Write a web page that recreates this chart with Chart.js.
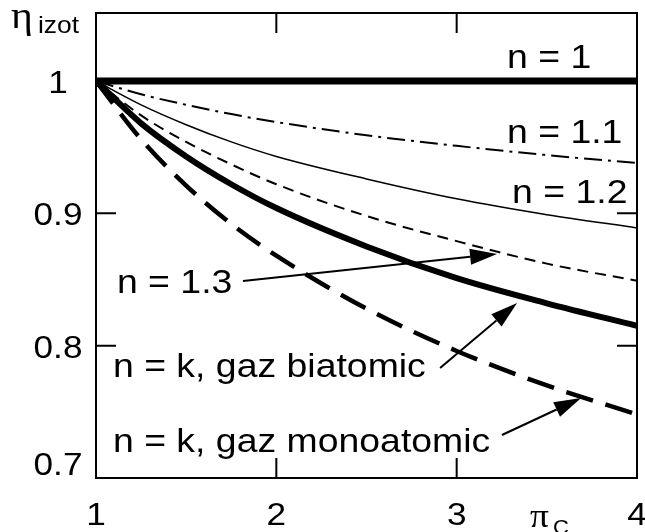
<!DOCTYPE html>
<html>
<head>
<meta charset="utf-8">
<script src="https://cdn.jsdelivr.net/npm/chart.js@4"></script>
<style>
  html, body { margin: 0; padding: 0; background: #fff; }
  canvas { display: block; }
</style>
</head>
<body>
<canvas id="chart" width="645" height="532"></canvas>
<script>
/* global Chart */
// pressure ratio and isothermal efficiency for each polytropic exponent
const piC = [1, 1.25, 1.5, 1.75, 2, 2.5, 3, 3.5, 4];
const etaN1 = [1, 1, 1, 1, 1, 1, 1, 1, 1];
const etaN11 = [1, 0.990, 0.982, 0.975, 0.969, 0.959, 0.951, 0.944, 0.938];
const etaN12 = [1, 0.982, 0.967, 0.954, 0.943, 0.926, 0.911, 0.899, 0.889];
const etaN13 = [1, 0.974, 0.954, 0.937, 0.922, 0.898, 0.879, 0.862, 0.849];
const etaBiatomic = [1, 0.968, 0.943, 0.922, 0.904, 0.875, 0.851, 0.832, 0.815];
const etaMonoatomic = [1, 0.956, 0.921, 0.892, 0.868, 0.828, 0.796, 0.770, 0.748];

const xTicks = [1, 2, 3, 4];
const yTicks = [0.7, 0.8, 0.9, 1];
const yTickLabels = ['0.7', '0.8', '0.9', '1'];

const FONT = '"Liberation Sans", Arial, sans-serif';
const SERIF = '"Liberation Serif", "DejaVu Serif", serif';
const STRETCH = 1.1; // lettering is a little wide

const toPoints = (ys) => ys.map((y, i) => ({ x: piC[i], y }));

const series = [
  { data: etaN1, width: 7, dash: [] },
  { data: etaN11, width: 2, dash: [18, 6, 3, 6] },
  { data: etaN12, width: 1.5, dash: [] },
  { data: etaN13, width: 2, dash: [11, 7] },
  { data: etaBiatomic, width: 6, dash: [] },
  { data: etaMonoatomic, width: 4.5, dash: [28, 13] },
];

// labels: text, left x, baseline y (data units)
const labels = [
  { text: 'n = 1', x: 3.279, y: 1.0098 },
  { text: 'n = 1.1', x: 3.279, y: 0.9531 },
  { text: 'n = 1.2', x: 3.307, y: 0.9078 },
  { text: 'n = 1.3', x: 1.116, y: 0.8398 },
  { text: 'n = k, gaz biatomic', x: 1.094, y: 0.7763 },
  { text: 'n = k, gaz monoatomic', x: 1.094, y: 0.7196 },
];

// arrows: tail -> tip (data units)
const arrows = [
  { from: [1.815, 0.8489], to: [3.224, 0.8693] },
  { from: [2.908, 0.7831], to: [3.335, 0.8322] },
  { from: [3.251, 0.7325], to: [3.690, 0.7604] },
];

function text(ctx, str, x, y, size, align, family) {
  ctx.save();
  ctx.font = `${size}px ${family || FONT}`;
  ctx.textAlign = align || 'left';
  ctx.textBaseline = 'alphabetic';
  ctx.fillStyle = '#000';
  ctx.translate(x, y);
  ctx.scale(STRETCH, 1);
  ctx.fillText(str, 0, 0);
  ctx.restore();
}

function arrow(ctx, x0, y0, x1, y1) {
  const ang = Math.atan2(y1 - y0, x1 - x0);
  const len = 27, half = 8;
  const bx = x1 - len * Math.cos(ang), by = y1 - len * Math.sin(ang);
  ctx.save();
  ctx.strokeStyle = '#000';
  ctx.fillStyle = '#000';
  ctx.lineWidth = 2;
  ctx.beginPath();
  ctx.moveTo(x0, y0);
  ctx.lineTo(bx, by);
  ctx.stroke();
  ctx.beginPath();
  ctx.moveTo(x1, y1);
  ctx.lineTo(bx + half * Math.sin(ang), by - half * Math.cos(ang));
  ctx.lineTo(bx - half * Math.sin(ang), by + half * Math.cos(ang));
  ctx.closePath();
  ctx.fill();
  ctx.restore();
}

const framePlugin = {
  id: 'frame',
  afterDraw(chart) {
    const { ctx, chartArea: a, scales: { x, y } } = chart;
    ctx.save();
    ctx.strokeStyle = '#000';
    ctx.lineWidth = 2;
    ctx.strokeRect(a.left, a.top, a.right - a.left, a.bottom - a.top);
    // inward ticks on all four sides
    ctx.beginPath();
    xTicks.slice(1, -1).forEach((v) => {
      const px = x.getPixelForValue(v);
      ctx.moveTo(px, a.bottom); ctx.lineTo(px, a.bottom - 20);
      ctx.moveTo(px, a.top); ctx.lineTo(px, a.top + 20);
    });
    yTicks.slice(1).forEach((v) => {
      const py = y.getPixelForValue(v);
      ctx.moveTo(a.left, py); ctx.lineTo(a.left + 20, py);
      ctx.moveTo(a.right, py); ctx.lineTo(a.right - 20, py);
    });
    ctx.stroke();
    ctx.restore();

    // tick labels
    xTicks.forEach((v) => text(ctx, String(v), x.getPixelForValue(v), a.bottom + 47, 32, 'center'));
    yTicks.forEach((v, i) => {
      let py = y.getPixelForValue(v) + 12;
      if (i === 0) py -= 15;
      text(ctx, yTickLabels[i], 58, py, 32, 'center');
    });

    // axis titles
    text(ctx, 'η', 11, 28, 38, 'left', SERIF);
    text(ctx, 'izot', 38, 33, 24, 'left');
    text(ctx, 'π', 530, 527, 34, 'left', SERIF);
    text(ctx, 'C', 553, 534, 20, 'left');

    // curve labels and arrows
    labels.forEach((l) => text(ctx, l.text, x.getPixelForValue(l.x), y.getPixelForValue(l.y), 34, 'left'));
    arrows.forEach((r) => arrow(ctx,
      x.getPixelForValue(r.from[0]), y.getPixelForValue(r.from[1]),
      x.getPixelForValue(r.to[0]), y.getPixelForValue(r.to[1])));
  },
};

new Chart(document.getElementById('chart'), {
  type: 'line',
  data: {
    datasets: series.map((s) => ({
      data: toPoints(s.data),
      borderColor: '#000',
      borderWidth: s.width,
      borderDash: s.dash,
      borderCapStyle: 'butt',
      fill: false,
      pointRadius: 0,
      cubicInterpolationMode: 'monotone',
    })),
  },
  options: {
    responsive: false,
    animation: false,
    events: [],
    layout: { padding: { top: 13, right: 8, left: 0, bottom: 0 } },
    plugins: { legend: { display: false }, tooltip: { enabled: false } },
    scales: {
      x: {
        type: 'linear', min: 1, max: 4,
        grid: { display: false }, border: { display: false }, ticks: { display: false },
        afterFit(s) { s.height = 54; },
      },
      y: {
        type: 'linear', min: 0.7, max: 1.0514,
        grid: { display: false }, border: { display: false }, ticks: { display: false },
        afterFit(s) { s.width = 96; },
      },
    },
  },
  plugins: [framePlugin],
});
</script>
</body>
</html>
